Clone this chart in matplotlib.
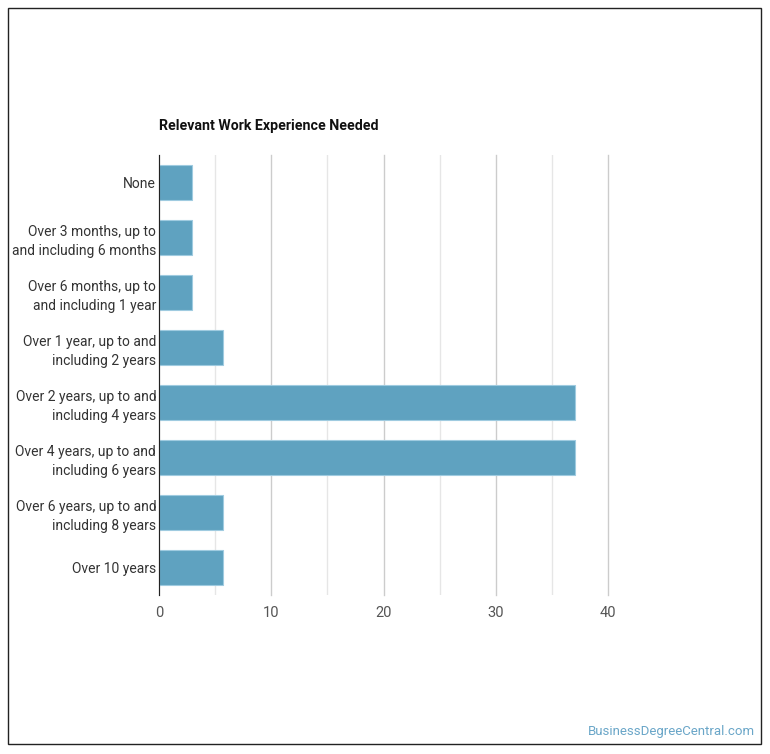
import matplotlib
matplotlib.use("Agg")
import matplotlib.pyplot as plt
from matplotlib.patches import Rectangle
from matplotlib.ticker import MultipleLocator

# DATA
categories = [
    "None",
    "Over 3 months, up to\nand including 6 months",
    "Over 6 months, up to\nand including 1 year",
    "Over 1 year, up to and\nincluding 2 years",
    "Over 2 years, up to and\nincluding 4 years",
    "Over 4 years, up to and\nincluding 6 years",
    "Over 6 years, up to and\nincluding 8 years",
    "Over 10 years",
]
values = [2.9, 2.9, 2.9, 5.7, 37.1, 37.1, 5.7, 5.7]
x_ticks = [0, 10, 20, 30, 40]

plt.rcParams["font.family"] = ["Roboto", "DejaVu Sans"]

W, H = 770, 754
fig = plt.figure(figsize=(W / 100, H / 100), dpi=100)
fig.patch.set_facecolor("white")

# outer border
fig.add_artist(Rectangle((8 / W, 1 - 744 / H), (761 - 8) / W, (744 - 8) / H,
                         transform=fig.transFigure, fill=False,
                         edgecolor="#222222", linewidth=1.0))

ax = fig.add_axes([159 / W, 1 - 595 / H, (608 - 159) / W, (595 - 155) / H])

ypos = list(range(len(categories)))
ax.barh(ypos, values, height=0.64, color="#5fa2c0", edgecolor="#9fcbe0",
        linewidth=0.8, zorder=3)

ax.set_xlim(0, 40)
ax.set_ylim(len(categories) - 0.5, -0.5)
ax.set_xticks(x_ticks)
ax.xaxis.set_minor_locator(MultipleLocator(5))
ax.set_yticks(ypos)
ax.set_yticklabels(categories, fontsize=10, color="#333333", linespacing=1.45)
ax.tick_params(axis="x", length=0, labelsize=10.5, labelcolor="#555555", pad=8)
ax.tick_params(axis="y", length=0, pad=2)
ax.tick_params(which="minor", length=0)

ax.grid(axis="x", which="major", color="#cccccc", linewidth=1, zorder=0)
ax.grid(axis="x", which="minor", color="#e6e6e6", linewidth=1, zorder=0)
for line in ax.get_xgridlines():
    line.set_clip_on(False)
for s in ["top", "right", "bottom"]:
    ax.spines[s].set_visible(False)
ax.spines["left"].set_color("#222222")
ax.spines["left"].set_zorder(4)

fig.text(159 / W, 1 - 126 / H, "Relevant Work Experience Needed",
         fontsize=10.2, fontweight="bold", color="#111111", va="center", ha="left")
fig.text(755 / W, 1 - 731 / H, "BusinessDegreeCentral.com",
         fontsize=9.5, color="#6aa6c8", va="center", ha="right")

fig.savefig("out.png", dpi=100)
